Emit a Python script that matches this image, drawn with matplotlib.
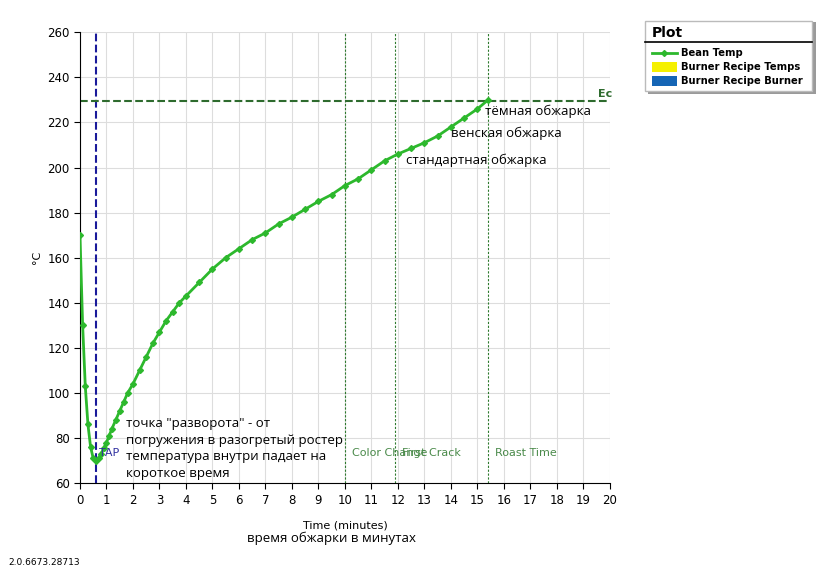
import matplotlib

matplotlib.use("Agg")
import matplotlib.pyplot as plt
from matplotlib.patches import Rectangle

time_min = [0, 0.1, 0.2, 0.3, 0.4, 0.5, 0.6, 0.7, 0.8, 0.9, 1.0, 1.1, 1.2, 1.35, 1.5, 1.65, 1.8, 2.0,
            2.25, 2.5, 2.75, 3.0, 3.25, 3.5, 3.75, 4.0, 4.5, 5.0, 5.5, 6.0, 6.5, 7.0, 7.5, 8.0,
            8.5, 9.0, 9.5, 10.0, 10.5, 11.0, 11.5, 12.0, 12.5, 13.0, 13.5, 14.0, 14.5, 15.0, 15.4]
bean_temp = [170, 130, 103, 86, 76, 71, 70, 71, 73, 75.5, 78, 81, 84, 88, 92, 96, 100, 104,
             110, 116, 122, 127, 132, 136, 140, 143, 149, 155, 160, 164, 168, 171, 175, 178,
             181.5, 185, 188, 192, 195, 199, 203, 206, 208.5, 211, 214, 218, 222, 226, 230]

events = {"TAP": 0.6, "Color Change": 10.0, "First Crack": 11.9, "Roast Time": 15.4}
end_temp = 229.5
roast_labels = ["тёмная обжарка", "венская обжарка", "стандартная обжарка"]

fig = plt.figure(figsize=(8.28, 5.87), dpi=100)
ax = fig.add_axes([0.0966, 0.177, 0.64, 0.768])

ax.plot(time_min, bean_temp, color="#2db82d", marker="D", markersize=3, linewidth=2, zorder=3)
ax.axvline(events["TAP"], color="#1a1a9a", linestyle="--", linewidth=1.5, zorder=2)
for name in ["Color Change", "First Crack", "Roast Time"]:
    ax.axvline(events[name], color="#2e7a2e", linestyle=(0, (2, 1.5)), linewidth=0.8)
ax.axhline(end_temp, color="#2e6b2e", linestyle="--", linewidth=1.5)

ax.text(events["TAP"] + 0.1, 71, "TAP", color="#3030a0", fontsize=8, va="bottom")
ax.text(10.25, 71, "Color Change", color="#4a8a4a", fontsize=8, va="bottom")
ax.text(12.15, 71, "First Crack", color="#4a8a4a", fontsize=8, va="bottom")
ax.text(15.65, 71, "Roast Time", color="#4a8a4a", fontsize=8, va="bottom")
ax.text(19.55, 230.5, "Ec", color="#2e6b2e", fontsize=8, fontweight="bold", va="bottom")

ax.text(1.75, 61.5, "точка \"разворота\" - от\nпогружения в разогретый ростер\nтемпература внутри падает на\nкороткое время",
        fontsize=9.5, family="Open Sans", linespacing=1.35, va="bottom")
ax.text(15.3, 225, roast_labels[0], fontsize=9.5, family="Open Sans", va="center")
ax.text(14.0, 215, roast_labels[1], fontsize=9.5, family="Open Sans", va="center")
ax.text(12.3, 203, roast_labels[2], fontsize=9.5, family="Open Sans", va="center")

ax.set_xlim(0, 20)
ax.set_ylim(60, 260)
ax.set_xticks(range(0, 21))
ax.set_yticks(range(60, 261, 20))
ax.tick_params(labelsize=8.5, length=4)
ax.grid(True, color="#dddddd", linewidth=0.8)
for side in ["top", "right"]:
    ax.spines[side].set_visible(False)
ax.set_ylabel("°C", fontsize=8)
ax.set_xlabel("Time (minutes)", fontsize=8, labelpad=10)
fig.text(0.4, 0.077, "время обжарки в минутах", fontsize=9.5, family="Open Sans", ha="center")
fig.text(0.01, 0.038, "2.0.6673.28713", fontsize=6.5)

# legend panel
fig.patches.append(Rectangle((648 / 828, 1 - 94 / 587), 168 / 828, 72 / 587, transform=fig.transFigure,
                             facecolor="#9a9a9a", edgecolor="none", zorder=0))
fig.patches.append(Rectangle((645 / 828, 1 - 91 / 587), 167 / 828, 70 / 587, transform=fig.transFigure,
                             facecolor="white", edgecolor="#bbbbbb", zorder=1))
fig.text(652 / 828, 1 - 33 / 587, "Plot", fontsize=10, fontweight="bold", va="center", zorder=2)
fig.lines.append(plt.Line2D([645 / 828, 812 / 828], [1 - 42 / 587] * 2, transform=fig.transFigure,
                            color="black", linewidth=1.2, zorder=2))
legend_items = ["Bean Temp", "Burner Recipe Temps", "Burner Recipe Burner"]
legend_colors = ["#2db82d", "#f5f000", "#1565b5"]
for i, (label, colour) in enumerate(zip(legend_items, legend_colors)):
    yy = 1 - (53 + i * 14) / 587
    if i == 0:
        fig.lines.append(plt.Line2D([652 / 828, 664.5 / 828, 677 / 828], [yy, yy, yy],
                                    transform=fig.transFigure, color=colour, linewidth=2,
                                    marker="D", markersize=3, markevery=[1], zorder=2))
    else:
        fig.patches.append(Rectangle((652 / 828, yy - 5 / 587), 25 / 828, 10 / 587, transform=fig.transFigure,
                                     facecolor=colour, edgecolor="none", zorder=2))
    fig.text(681 / 828, yy, label, fontsize=7.2, fontweight="bold", va="center", zorder=2)

fig.savefig("out.png", dpi=100)
